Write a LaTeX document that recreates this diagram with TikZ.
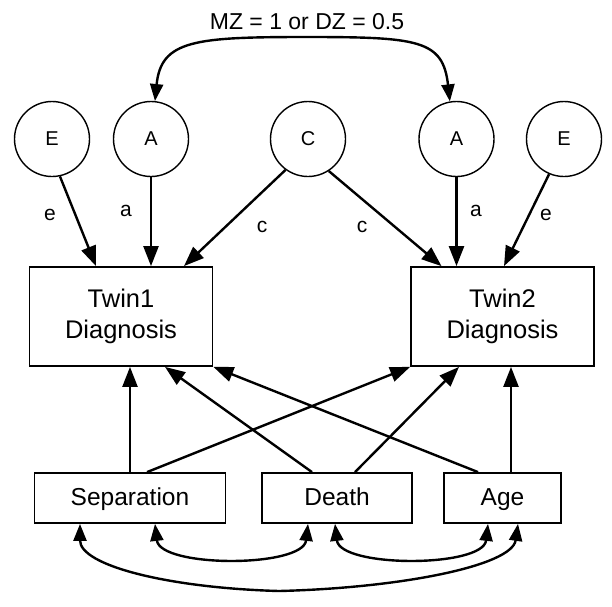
\documentclass[tikz,border=0pt]{standalone}
\usepackage{fontspec}
\setmainfont{Liberation Sans}
\usetikzlibrary{arrows.meta}

\tikzset{
	latent/.style={draw, circle, line width=1.4pt, minimum size=75pt, inner sep=0pt, font=\fontsize{20}{24}\selectfont},
	diag/.style={draw, rectangle, line width=1.8pt, minimum width=183pt, minimum height=99pt, align=center, font=\fontsize{25.5}{31}\selectfont},
	obs/.style={draw, rectangle, line width=1.8pt, minimum height=50pt, text height=18pt, text depth=4pt, font=\fontsize{24.5}{29}\selectfont},
	lbl/.style={font=\fontsize{21}{24}\selectfont},
	arr/.style={line width=2.4pt, -{Triangle[length=20pt,width=15pt]}},
	dblarr/.style={line width=2.4pt, {Triangle[length=17pt,width=13pt]}-{Triangle[length=17pt,width=13pt]}}
}

\begin{document}
\begin{tikzpicture}[x=1pt,y=-1pt]

		\useasboundingbox (0,0) rectangle (612,606);

		% latent factors
		\node[latent] (e1) at (52,139) {E};
		\node[latent] (a1) at (151,139) {A};
		\node[latent] (c) at (308,139) {C};
		\node[latent] (a2) at (456.5,139) {A};
		\node[latent] (e2) at (564,139) {E};

		\node[font=\fontsize{23}{27}\selectfont] (corr) at (307,22) {MZ = 1 or DZ = 0.5};
		\draw[dblarr] (a1.84) .. controls (161,40) and (195,37) .. (307,37) .. controls (419,37) and (443,40) .. (a2.100);

		% diagnoses
		\node[diag] (twin1) at (121,316.5) {Twin1\\Diagnosis};
		\node[diag] (twin2) at (502.5,316.5) {Twin2\\Diagnosis};

		\draw[arr] (e1.-78) -- ([xshift=-25pt]twin1.north);
			\node[lbl] (le1) at (50,215) {e};
		\draw[arr] (a1) -- (a1 |- twin1.north);
			\node[lbl] (la1) at (126,211) {a};
		\draw[arr] (c.-126) -- ([xshift=63pt]twin1.north);
			\node[lbl] (lc1) at (262,227) {c};
		\draw[arr] (c.-57) -- ([xshift=-61pt]twin2.north);
			\node[lbl] (lc2) at (362,227) {c};
		\draw[arr] (a2) -- (a2 |- twin2.north);
			\node[lbl] (la2) at (476,211) {a};
		\draw[arr] (e2.-113) -- ([xshift=1.5pt]twin2.north);
			\node[lbl] (le2) at (546,215) {e};

		% covariates
		\node[obs, minimum width=191pt] (sep) at (130,498) {Separation};
		\node[obs, minimum width=150pt] (death) at (337,498) {Death};
		\node[obs, minimum width=117pt] (age) at (502.5,498) {Age};

		\draw[arr] (sep) -- (sep |- twin1.south);
		\draw[arr] ([xshift=17pt]sep.north) -- (twin2.south west);
		\draw[arr] ([xshift=-25pt]death.north) -- ([xshift=44pt]twin1.south);
		\draw[arr] ([xshift=18pt]death.north) -- ([xshift=-43.5pt]twin2.south);
		\draw[arr] ([xshift=-24.5pt]age.north) -- (twin1.south east);
		\draw[arr] ([xshift=8.5pt]age.north) -- ([xshift=8.5pt]twin2.south);

		\draw[dblarr] ([xshift=25pt]sep.south) .. controls +(5,44) and +(-5,44) .. ([xshift=-29pt]death.south);
		\draw[dblarr] ([xshift=-2pt]death.south) .. controls +(5,44) and +(-5,44) .. ([xshift=-14.5pt]age.south);
		\draw[dblarr] ([xshift=-50pt]sep.south) .. controls +(0,42) and (170,588) .. (279,591) .. controls (400,588) and +(-6,42) .. ([xshift=15.5pt]age.south);

\end{tikzpicture}
\end{document}
